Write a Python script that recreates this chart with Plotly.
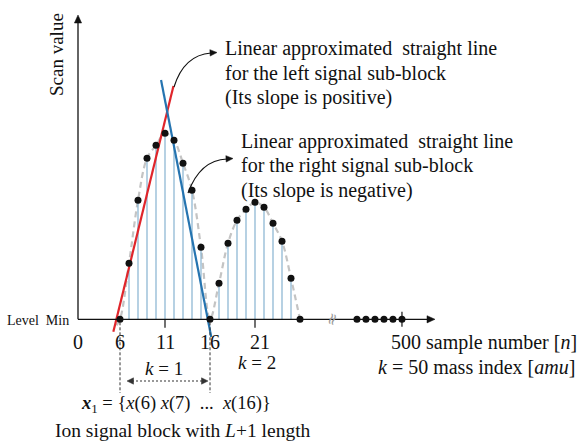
import plotly.graph_objects as go

# ---- data -------------------------------------------------------------
# first ion peak (sample number, scan value above Level Min)
n_peak1 = [6, 7, 8, 9, 10, 11, 12, 13, 14, 15, 16]
v_peak1 = [0, 5.6, 11.9, 16.1, 17.4, 18.6, 17.9, 15.6, 12.9, 7.2, 0]
# second ion peak
n_peak2 = [17, 18, 19, 20, 21, 22, 23, 24, 25, 26]
v_peak2 = [3.6, 7.6, 9.9, 11.0, 11.7, 11.2, 9.6, 7.8, 4.1, 0]
# last samples of the scan, after the axis break
n_tail = [495, 496, 497, 498, 499, 500]
v_tail = [0, 0, 0, 0, 0, 0]

# linear approximations of the left / right sub-blocks (end points)
left_fit_n = [5.26, 11.94]
left_fit_v = [-1.24, 23.33]
right_fit_n = [10.56, 16.14]
right_fit_v = [23.93, -1.77]

tick_vals = [0, 6, 11, 16, 21]
tick_text = ["0", "6", "11", "16", "21"]
tail_tick_val = 500

# ---- layout constants -------------------------------------------------
W, H = 581, 444
X0_PX, DX_PX = 66.0, 9.0        # pixel of sample 0, pixels per sample
BASE_PX, DY_PX = 319.3, 10.0    # pixel of Level Min, pixels per unit
ORIGIN_N = 1.33                 # where the vertical axis sits
BREAK_SHIFT = 495 - 32.33       # samples skipped by the axis break

SERIF = "Liberation Serif"
BLACK = "#111111"


def px_x(px):
    return (px - X0_PX) / DX_PX


def px_y(py):
    return (BASE_PX - py) / DY_PX


def disp(n):
    """Display position of a sample number (compress the break)."""
    return n - BREAK_SHIFT if n >= 495 else n


all_n = n_peak1 + n_peak2
all_v = v_peak1 + v_peak2

fig = go.Figure()

# smooth dashed envelope of the signal
fig.add_trace(go.Scatter(
    x=[n_peak1[0] - 0.4] + all_n, y=[-0.6] + all_v, mode="lines",
    line=dict(color="#c4c4c4", width=2.2, dash="6px,4px", shape="spline", smoothing=1.0),
    hoverinfo="skip"))

# stems
stem_x, stem_y = [], []
for n, v in zip(all_n, all_v):
    stem_x += [n, n, None]
    stem_y += [0, v, None]
fig.add_trace(go.Scatter(x=stem_x, y=stem_y, mode="lines",
                         line=dict(color="#86b2d0", width=1.2), hoverinfo="skip"))

# fitted straight lines
fig.add_trace(go.Scatter(x=left_fit_n, y=left_fit_v, mode="lines",
                         line=dict(color="#e0252b", width=2.2)))
fig.add_trace(go.Scatter(x=right_fit_n, y=right_fit_v, mode="lines",
                         line=dict(color="#2574b0", width=2.2)))

# sample dots
fig.add_trace(go.Scatter(x=all_n + [disp(n) for n in n_tail], y=all_v + v_tail,
                         mode="markers", marker=dict(color=BLACK, size=7)))

shapes = []
annotations = []


def seg(p0, p1, color=BLACK, width=1.3, dash=None):
    line = dict(color=color, width=width)
    if dash:
        line["dash"] = dash
    shapes.append(dict(type="line", x0=px_x(p0[0]), y0=px_y(p0[1]),
                       x1=px_x(p1[0]), y1=px_y(p1[1]), line=line))


def head(tip, d, length=8.0, half=3.6, color=BLACK):
    """Filled triangular arrow head with its tip at `tip`, pointing along d."""
    dx, dy = d
    norm = (dx * dx + dy * dy) ** 0.5
    ux, uy = dx / norm, dy / norm
    bx, by = tip[0] - ux * length, tip[1] - uy * length
    pts = [tip, (bx - uy * half, by + ux * half), (bx + uy * half, by - ux * half)]
    path = "M " + " L ".join("{},{}".format(px_x(x), px_y(y)) for x, y in pts) + " Z"
    shapes.append(dict(type="path", path=path, fillcolor=color,
                       line=dict(color=color, width=0.5)))


# axes with arrow heads
seg((78, BASE_PX), (428, BASE_PX))
head((435, BASE_PX), (1, 0))
seg((78, BASE_PX), (78, 22))
head((78, 15), (0, -1))

# tick marks
for t in [11, 21]:
    shapes.append(dict(type="line", x0=t, x1=t, y0=0, y1=-0.85,
                       line=dict(color=BLACK, width=1.2)))
shapes.append(dict(type="line", x0=disp(tail_tick_val), x1=disp(tail_tick_val),
                   y0=0.75, y1=-0.75, line=dict(color=BLACK, width=1.2)))

# dashed block limits
for t in [n_peak1[0], n_peak1[-1]]:
    shapes.append(dict(type="line", x0=t, x1=t, y0=-0.3, y1=px_y(393),
                       line=dict(color="#333333", width=1, dash="3px,2px")))

# dotted double arrow between the block limits
seg((132, 381), (202, 381), color="#333333", width=1.2, dash="2px,2px")
head((127, 381), (-1, 0), length=6.5, half=3.2, color="#333333")
head((208, 381), (1, 0), length=6.5, half=3.2, color="#333333")

# axis break mark
annotations.append(dict(x=px_x(331.5), y=0, xref="x", yref="y", text="≈",
                        showarrow=False, textangle=-70,
                        font=dict(family="DejaVu Sans", size=16, color="#9a9a9a")))


# curved pointer arrows
def curve(p0, c, p1):
    return ("M {},{} Q {},{} {},{}".format(px_x(p0[0]), px_y(p0[1]), px_x(c[0]), px_y(c[1]),
                                           px_x(p1[0]), px_y(p1[1])))


shapes.append(dict(type="path", path=curve((174, 87), (184, 55), (211, 53)),
                   line=dict(color=BLACK, width=1.2)))
head((217, 52.5), (1, -0.05), length=7, half=3.2)
shapes.append(dict(type="path", path=curve((188, 193), (200, 160), (227, 159)),
                   line=dict(color=BLACK, width=1.2)))
head((233, 158.5), (1, -0.05), length=7, half=3.2)


def label(text, cx, cy, size=20, xanchor="center", angle=0, xshift=0):
    annotations.append(dict(x=cx / W, y=1 - cy / H, xref="paper", yref="paper",
                            text=text, showarrow=False, xanchor=xanchor, yanchor="middle",
                            textangle=angle, xshift=xshift,
                            font=dict(family=SERIF, size=size, color=BLACK)))


# tick labels (placed on the sample scale)
tick_pos = {0: ORIGIN_N}
for v, t in zip(tick_vals, tick_text):
    xv = tick_pos.get(v, v)
    annotations.append(dict(x=xv, y=px_y(342), xref="x", yref="y", text=t,
                            showarrow=False, xshift=5 if v == 21 else 0,
                            font=dict(family=SERIF, size=20, color=BLACK)))

label("Scan value", 57, 55, size=19, angle=-90)
label("Level  Min", 71, 320, size=14, xanchor="right")

label("<i>k</i> = 1", 164, 368, size=19)
label("<i>k</i> = 2", 257, 362, size=19)
label("<b><i>x</i></b><sub>1</sub> = {<i>x</i>(6) <i>x</i>(7)  ...  <i>x</i>(16)}", 176, 404, size=18.5)
label("Ion signal block with <i>L</i>+1 length", 53, 430, size=19.5, xanchor="left")
label("500 sample number [<i>n</i>]", 389, 342, size=20, xanchor="left")
label("<i>k</i> = 50 mass index [<i>amu</i>]", 577, 367, size=20, xanchor="right")

for i, line in enumerate(["Linear approximated  straight line",
                          "for the left signal sub-block",
                          "(Its slope is positive)"]):
    label(line, 223, 48 + 25 * i, xanchor="left")
for i, line in enumerate(["Linear approximated  straight line",
                          "for the right signal sub-block",
                          "(Its slope is negative)"]):
    label(line, 239, 141 + 24.5 * i, xanchor="left")

fig.update_layout(
    width=W, height=H, margin=dict(l=0, r=0, t=0, b=0),
    paper_bgcolor="white", plot_bgcolor="white", showlegend=False,
    xaxis=dict(range=[px_x(0), px_x(W)], visible=False, fixedrange=True),
    yaxis=dict(range=[px_y(H), px_y(0)], visible=False, fixedrange=True),
    shapes=shapes, annotations=annotations,
)

fig.write_html("out.html")
